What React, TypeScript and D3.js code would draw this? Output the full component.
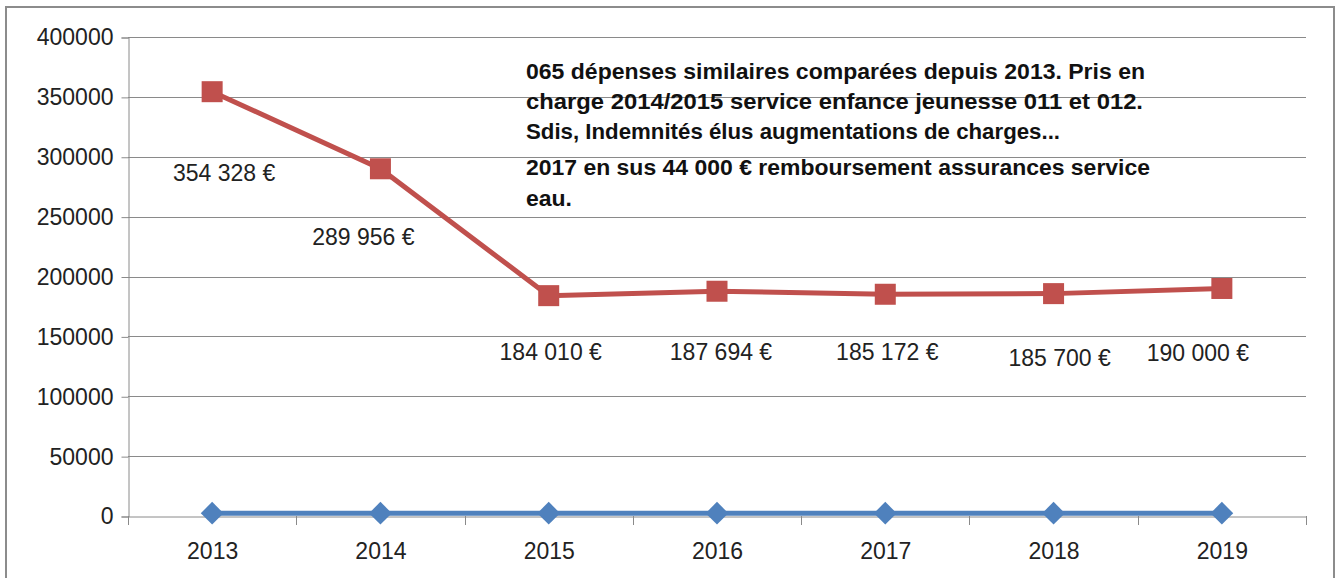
import React, { useEffect, useRef } from 'react';
import * as d3 from 'd3';

// Données
const years = ['2013', '2014', '2015', '2016', '2017', '2018', '2019'];
const depenses = [354328, 289956, 184010, 187694, 185172, 185700, 190000];
const autreSerie = [2300, 2300, 2300, 2300, 2300, 2300, 2300];
const yTicks = [0, 50000, 100000, 150000, 200000, 250000, 300000, 350000, 400000];
const valueLabels = ['354 328 €', '289 956 €', '184 010 €', '187 694 €', '185 172 €', '185 700 €', '190 000 €'];
const noteLines = [
  '065 dépenses similaires comparées depuis 2013. Pris en',
  'charge 2014/2015 service enfance jeunesse 011 et 012.',
  'Sdis, Indemnités élus augmentations de charges...',
  '2017 en sus 44 000 € remboursement assurances service',
  'eau.',
];

// Décalage manuel des étiquettes (comme dans le classeur)
const labelOffsets = [[12, 81], [-17, 68], [2, 56], [4, 61], [2, 58], [6, 64], [-24, 64]];
const noteLayout = [
  { y: 79, w: 619 }, { y: 109, w: 617 }, { y: 139, w: 534 }, { y: 175, w: 624 }, { y: 206, w: 46 },
];

const W = 1340;
const H = 578;
const FONT = '"Liberation Sans", Arial, sans-serif';

export default function App() {
  const svgRef = useRef<SVGSVGElement>(null);

  useEffect(() => {
    if (!svgRef.current) return;
    const svg = d3.select(svgRef.current);
    svg.selectAll('*').remove();

    const left = 128, right = 1306, top = 37, bottom = 516;

    const x = d3.scaleBand().domain(years).range([left, right]);
    const y = d3.scaleLinear().domain([0, 400000]).range([bottom, top]);
    const cx = (d: string) => (x(d) as number) + x.bandwidth() / 2;

    // Cadre
    svg.append('rect')
      .attr('x', 6).attr('y', 7).attr('width', 1328).attr('height', 640)
      .attr('fill', '#fff').attr('stroke', '#8c8c8c').attr('stroke-width', 2);

    // Grille horizontale
    svg.append('g')
      .selectAll('line')
      .data(yTicks.filter(t => t > 0))
      .join('line')
      .attr('x1', left).attr('x2', right)
      .attr('y1', d => Math.round(y(d)) + 0.5).attr('y2', d => Math.round(y(d)) + 0.5)
      .attr('stroke', '#8a8a8a').attr('stroke-width', 1);

    // Axe Y
    const yAxis = svg.append('g')
      .attr('transform', `translate(${left + 0.5},0.5)`)
      .call(d3.axisLeft(y).tickValues(yTicks).tickSize(7).tickPadding(8).tickFormat(d => String(d)));
    yAxis.select('.domain').attr('stroke', '#8a8a8a');
    yAxis.selectAll('.tick line').attr('stroke', '#8a8a8a');
    yAxis.selectAll('text')
      .attr('font-family', FONT).attr('font-size', 23).attr('fill', '#222');

    // Axe X
    const xAxis = svg.append('g')
      .attr('transform', `translate(0.5,${bottom + 0.5})`)
      .call(d3.axisBottom(x).tickSize(0).tickPadding(26));
    xAxis.select('.domain').attr('stroke', '#8a8a8a');
    xAxis.selectAll('text')
      .attr('font-family', FONT).attr('font-size', 23).attr('fill', '#222');
    // Graduations entre catégories
    svg.append('g')
      .selectAll('line')
      .data(d3.range(years.length + 1))
      .join('line')
      .attr('x1', i => Math.round(left + i * x.step()) + 0.5)
      .attr('x2', i => Math.round(left + i * x.step()) + 0.5)
      .attr('y1', bottom).attr('y2', bottom + 9)
      .attr('stroke', '#8a8a8a');

    const line = d3.line<number>()
      .x((_, i) => cx(years[i]))
      .y(d => y(d));

    // Série bleue
    svg.append('path')
      .datum(autreSerie)
      .attr('d', line)
      .attr('fill', 'none').attr('stroke', '#4f81bd').attr('stroke-width', 5);
    svg.append('g')
      .selectAll('path')
      .data(autreSerie)
      .join('path')
      .attr('d', d3.symbol().type(d3.symbolDiamond2).size(330))
      .attr('transform', (d, i) => `translate(${cx(years[i])},${y(d)})`)
      .attr('fill', '#4f81bd');

    // Série rouge
    svg.append('path')
      .datum(depenses)
      .attr('d', line)
      .attr('fill', 'none').attr('stroke', '#c0504d').attr('stroke-width', 5);
    svg.append('g')
      .selectAll('rect')
      .data(depenses)
      .join('rect')
      .attr('x', (d, i) => cx(years[i]) - 10.5)
      .attr('y', d => y(d) - 10.5)
      .attr('width', 21).attr('height', 21)
      .attr('fill', '#c0504d');

    // Étiquettes de valeurs
    svg.append('g')
      .selectAll('text')
      .data(depenses)
      .join('text')
      .attr('x', (d, i) => cx(years[i]) + labelOffsets[i][0])
      .attr('y', (d, i) => y(d) + labelOffsets[i][1])
      .attr('dy', '0.35em')
      .attr('text-anchor', 'middle')
      .attr('font-family', FONT).attr('font-size', 23).attr('fill', '#222')
      .text((_, i) => valueLabels[i]);

    // Note
    svg.append('g')
      .selectAll('text')
      .data(noteLines)
      .join('text')
      .attr('x', 526)
      .attr('y', (_, i) => noteLayout[i].y)
      .attr('textLength', (_, i) => noteLayout[i].w)
      .attr('lengthAdjust', 'spacingAndGlyphs')
      .attr('font-family', FONT).attr('font-size', 22).attr('font-weight', 'bold').attr('fill', '#111')
      .text(d => d);
  }, []);

  return (
    <div style={{ position: 'fixed', left: 0, top: 0, width: W, height: H, background: '#fff' }}>
      <svg ref={svgRef} width={W} height={H} style={{ display: 'block' }} />
    </div>
  );
}
